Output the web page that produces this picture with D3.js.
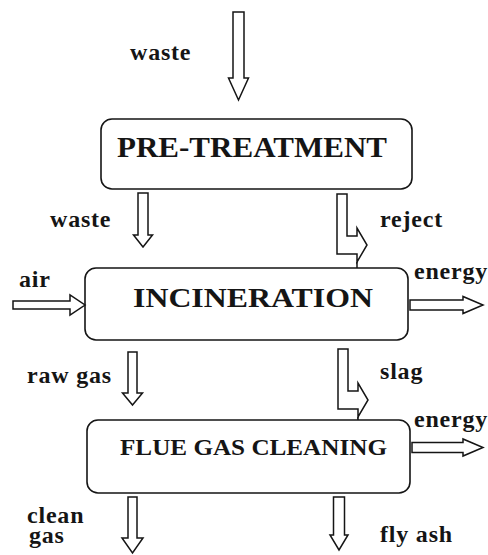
<!DOCTYPE html>
<html>
<head>
<meta charset="utf-8">
<script src="https://cdn.jsdelivr.net/npm/d3@7"></script>
<style>
  html, body { margin: 0; padding: 0; background: #fff; }
  svg { display: block; }
  .label { font-family: "Liberation Serif", "DejaVu Serif", serif; font-weight: bold; fill: #151515; }
  .flow { letter-spacing: 0.8px; }
  .box { fill: #fff; stroke: #151515; stroke-width: 1.6; }
  .arrow { fill: #fff; stroke: #151515; stroke-width: 1.5; stroke-linejoin: miter; }
</style>
</head>
<body>
<svg id="chart" width="488" height="555"></svg>
<script>
// Process stages, top to bottom
const stages = ["PRE-TREATMENT", "INCINERATION", "FLUE GAS CLEANING"];

// Flows entering / leaving each stage
const inputFlows = ["waste", "waste", "raw gas"];       // straight down into stage i
const sideFlows = [null, "reject", "slag"];              // bent arrow into stage i
const airFlows = [null, "air", null];                    // from the left
const energyFlows = [null, "energy", "energy"];          // out to the right
const outputFlows = [["clean", "gas"], ["fly ash"]];     // below the last stage

// Layout (pixels)
const boxTop = [119, 268, 420];
const boxH = [70, 72, 73];
const boxX = [[101, 412], [85, 408], [87, 410]];
const titleSize = [29, 27, 23];
const titleX = [117, 133, 120];
const titleW = [270, 240, 267];
const titleBase = [157, 307, 455];

const svg = d3.select("#chart");
const line = d3.line();

// Arrow pointing down: centre x, top y, tip y
function downArrow(cx, y0, y1, sw, hw, hl) {
    const s = sw / 2, h = hw / 2;
    return line([[cx - s, y0], [cx + s, y0], [cx + s, y1 - hl], [cx + h, y1 - hl],
        [cx, y1], [cx - h, y1 - hl], [cx - s, y1 - hl]]) + "Z";
}

// Arrow pointing right: left x, tip x, centre y
function rightArrow(x0, x1, cy, sw, hw, hl) {
    const s = sw / 2, h = hw / 2;
    return line([[x0, cy - s], [x1 - hl, cy - s], [x1 - hl, cy - h], [x1, cy],
        [x1 - hl, cy + h], [x1 - hl, cy + s], [x0, cy + s]]) + "Z";
}

// Hook arrow: goes down then turns right
function bentArrow(x0, y0) {
    return line([[x0, y0], [x0 + 10, y0], [x0 + 10, y0 + 42], [x0 + 20, y0 + 42],
        [x0 + 20, y0 + 34], [x0 + 30, y0 + 51], [x0 + 20, y0 + 68], [x0 + 20, y0 + 60],
        [x0, y0 + 60]]) + "Z";
}

// Flow label, one tspan per line
function label(lines, x, y, dy) {
    const t = svg.append("text").attr("class", "label flow")
        .attr("y", y)
        .style("font-size", "24px");
    [].concat(lines).forEach((s, k) => {
        t.append("tspan").attr("x", x + (k ? 2 : 0)).attr("dy", k ? (dy || 20) : 0).text(s);
    });
}

// Stage boxes
stages.forEach((name, i) => {
    svg.append("rect").attr("class", "box")
        .attr("x", boxX[i][0]).attr("y", boxTop[i])
        .attr("width", boxX[i][1] - boxX[i][0]).attr("height", boxH[i])
        .attr("rx", 11).attr("ry", 11);
    svg.append("text").attr("class", "label")
        .attr("x", titleX[i]).attr("y", titleBase[i])
        .attr("textLength", titleW[i]).attr("lengthAdjust", "spacingAndGlyphs")
        .style("font-size", titleSize[i] + "px")
        .text(name);
});

// Inputs from above
const inArrow = [[238.5, 12, 100, 11, 20, 22], [143, 193, 247, 10, 19, 12], [132.5, 352, 405, 9, 20, 12]];
const inLabel = [[130, 60], [50, 227], [27, 383]];
inputFlows.forEach((name, i) => {
    svg.append("path").attr("class", "arrow").attr("d", downArrow(...inArrow[i]));
    label(name, inLabel[i][0], inLabel[i][1]);
});

// Side streams (reject, slag)
const sideX = [null, 337, 338], sideY = [null, 194, 349];
sideFlows.forEach((name, i) => {
    if (!name) return;
    svg.append("path").attr("class", "arrow").attr("d", bentArrow(sideX[i], sideY[i]));
    svg.append("path").attr("class", "arrow")
        .attr("d", line([[sideX[i] + 20, sideY[i] + 68], [sideX[i] + 20, boxTop[i]]]));
    label(name, 380, boxTop[i] - 41);
});

// Air into incineration
airFlows.forEach((name, i) => {
    if (!name) return;
    svg.append("path").attr("class", "arrow").attr("d", rightArrow(13, boxX[i][0], 305, 8, 20, 15));
    label(name, 19, 287);
});

// Energy out to the right
const energyY = [null, 305, 447.5], energyLab = [null, 279, 427];
energyFlows.forEach((name, i) => {
    if (!name) return;
    svg.append("path").attr("class", "arrow").attr("d", rightArrow(boxX[i][1] + 2, 483, energyY[i], 10, 17, 20));
    label(name, 414, energyLab[i]);
});

// Outputs of flue gas cleaning
const outArrow = [[132.5, 497, 553, 9, 21, 15], [339, 497, 550, 11, 18, 15]];
const outLabel = [[27, 523], [380, 542]];
outputFlows.forEach((name, i) => {
    svg.append("path").attr("class", "arrow").attr("d", downArrow(...outArrow[i]));
    label(name, outLabel[i][0], outLabel[i][1], 20);
});
</script>
</body>
</html>
